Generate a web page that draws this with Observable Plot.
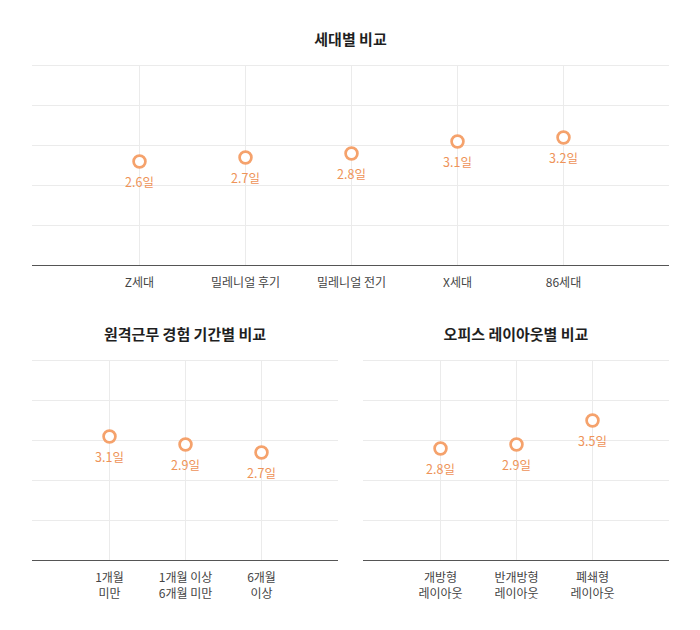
<!DOCTYPE html>
<html>
<head>
<meta charset="utf-8">
<script src="https://cdn.jsdelivr.net/npm/d3@7"></script>
<script src="https://cdn.jsdelivr.net/npm/@observablehq/plot@0.6"></script>
<style>
  html, body { margin: 0; padding: 0; background: #fff; }
  #wrap { position: relative; width: 700px; height: 630px; background: #fff; font-family: 'Noto Sans CJK KR', 'Noto Sans', sans-serif; }
  .title { position: absolute; text-align: center; font-weight: 700; color: #1f1f1f; line-height: 20px; white-space: nowrap; }
  .chart { position: absolute; }
</style>
</head>
<body>
<div id="wrap">
  <div class="title" style="top:29px;left:32px;width:637px;font-size:15px;">세대별 비교</div>
  <div class="chart" id="c1" style="top:55px;left:0;"></div>
  <div class="title" style="top:324px;left:32px;width:306px;font-size:15px;">원격근무 경험 기간별 비교</div>
  <div class="chart" id="c2" style="top:350px;left:0;"></div>
  <div class="title" style="top:324px;left:363px;width:306px;font-size:15px;">오피스 레이아웃별 비교</div>
  <div class="chart" id="c3" style="top:350px;left:350px;"></div>
</div>
<script>
const genCats = ["Z세대", "밀레니얼 후기", "밀레니얼 전기", "X세대", "86세대"];
const genVals = [2.6, 2.7, 2.8, 3.1, 3.2];

const remoteCats = ["1개월\n미만", "1개월 이상\n6개월 미만", "6개월\n이상"];
const remoteVals = [3.1, 2.9, 2.7];

const officeCats = ["개방형\n레이아웃", "반개방형\n레이아웃", "폐쇄형\n레이아웃"];
const officeVals = [2.8, 2.9, 3.5];

const yTicks = [0, 1, 2, 3, 4, 5];
const unit = "일";

function makeChart(cats, vals, opts) {
  const data = cats.map((c, i) => ({cat: c, v: vals[i]}));
  return Plot.plot({
    width: opts.width,
    height: opts.height,
    marginTop: 10,
    marginBottom: opts.height - 210,
    marginLeft: opts.marginLeft,
    marginRight: opts.marginRight,
    style: {fontFamily: "'Noto Sans CJK KR', 'Noto Sans', sans-serif", background: "transparent"},
    x: {type: "point", domain: cats, padding: 1, label: null},
    y: {domain: [0, 5], axis: null},
    marks: [
      Plot.ruleY(yTicks.slice(1), {stroke: "#ebebeb", strokeWidth: 1}),
      Plot.ruleX(cats, {y1: 0, y2: 5, stroke: "#ebebeb", strokeWidth: 1}),
      Plot.ruleY([0], {stroke: "#555", strokeWidth: 1.2}),
      Plot.axisX({tickSize: 0, tickPadding: 10, fontSize: 12, fill: "#444", lineHeight: 1.35, label: null}),
      Plot.dot(data, {x: "cat", y: "v", r: 5.9, stroke: "#f5a26c", strokeWidth: 2.7, fill: "#fff"}),
      Plot.text(data, {x: "cat", y: "v", text: d => d.v.toFixed(1) + unit, dy: 21, fill: "#ee9358", fontSize: 12.5})
    ]
  });
}

document.getElementById("c1").appendChild(makeChart(genCats, genVals, {width: 700, height: 255, marginLeft: 32, marginRight: 31}));
document.getElementById("c2").appendChild(makeChart(remoteCats, remoteVals, {width: 350, height: 270, marginLeft: 32, marginRight: 12}));
document.getElementById("c3").appendChild(makeChart(officeCats, officeVals, {width: 350, height: 270, marginLeft: 13, marginRight: 31}));
</script>
</body>
</html>
